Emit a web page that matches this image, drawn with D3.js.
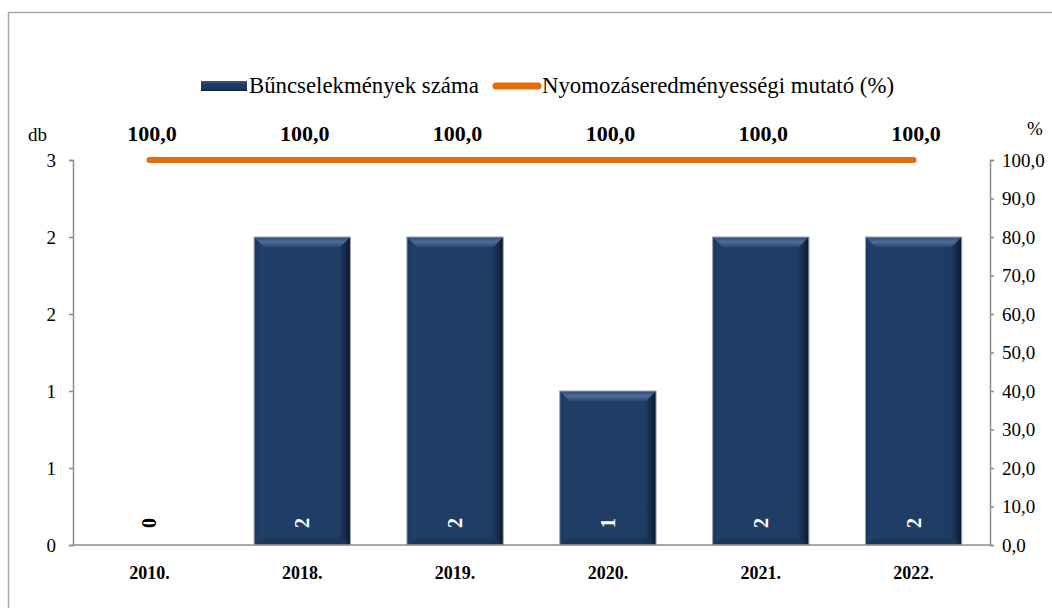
<!DOCTYPE html>
<html><head><meta charset="utf-8">
<script src="https://cdn.jsdelivr.net/npm/d3@7"></script>
<style>body{margin:0;background:#fff}svg{display:block}</style>
</head><body>
<svg id="c" width="1052" height="608"></svg>
<script>
const categories = ["2010.","2018.","2019.","2020.","2021.","2022."];
const counts = [0,2,2,1,2,2];
const rates = [100,100,100,100,100,100];
const leftTicks = [0,0.5,1,1.5,2,2.5];
const rightTicks = [0,10,20,30,40,50,60,70,80,90,100];
const legendLabels = ["Bűncselekmények száma","Nyomozáseredményességi mutató (%)"];

const svg = d3.select("#c");
const m={l:73,r:990,t:160,b:545};
svg.append("rect").attr("x",8.5).attr("y",12.5).attr("width",1100).attr("height",700)
  .attr("fill","#fff").attr("stroke","#a6a6a6").attr("stroke-width",1.5);

const x=d3.scaleBand().domain(categories).range([m.l,m.r]).paddingInner(0.37).paddingOuter(0.185);
const yL=d3.scaleLinear().domain([0,2.5]).range([m.b,m.t]);
const yR=d3.scaleLinear().domain([0,100]).range([m.b,m.t]);

const defs=svg.append("defs");
const g1=defs.append("linearGradient").attr("id","hg").attr("x1",0).attr("x2",1).attr("y1",0).attr("y2",0);
[[0,"#1c3760"],[0.06,"#203e67"],[0.88,"#1f3c65"],[0.95,"#142a48"],[1,"#091629"]].forEach(s=>g1.append("stop").attr("offset",s[0]).attr("stop-color",s[1]));
const g2=defs.append("linearGradient").attr("id","tg").attr("x1",0).attr("x2",0).attr("y1",0).attr("y2",1);
[[0,"#2c4a74"],[0.5,"#4d6c96"],[1,"#2a4872"]].forEach(s=>g2.append("stop").attr("offset",s[0]).attr("stop-color",s[1]));

// bars
const bars=svg.append("g");
categories.forEach((c,i)=>{
  const v=counts[i]; if(v<=0) return;
  const x0=x(c), bw=x.bandwidth(), y0=yL(v), h=yL(0)-y0;
  const g=bars.append("g");
  g.append("rect").attr("x",x0).attr("y",y0).attr("width",bw).attr("height",h).attr("fill","url(#hg)");
  const bv=10;
  g.append("path").attr("d",`M${x0},${y0}L${x0+bw},${y0}L${x0+bw-bv},${y0+bv}L${x0+bv},${y0+bv}Z`).attr("fill","url(#tg)");
  g.append("path").attr("d",`M${x0},${y0+h}L${x0+bw},${y0+h}L${x0+bw-bv},${y0+h-bv*0.7}L${x0+bv},${y0+h-bv*0.7}Z`).attr("fill","#1a3459").attr("opacity",0.8);
  g.append("rect").attr("x",x0).attr("y",y0).attr("width",bw).attr("height",h).attr("fill","none").attr("stroke","#9da3ab").attr("stroke-width",1);
});

// axes
const axL=d3.axisLeft(yL).tickValues(leftTicks).tickSize(4).tickFormat(d=>String(Math.round(d)));
const gl=svg.append("g").attr("transform",`translate(${m.l},0)`).call(axL);
const axR=d3.axisRight(yR).tickValues(rightTicks).tickSize(4).tickFormat(d=>d3.format(".1f")(d).replace(".",","));
const gr=svg.append("g").attr("transform",`translate(${m.r},0)`).call(axR);
[gl,gr].forEach(g=>{
  g.select(".domain").attr("stroke","#8c8c8c").attr("stroke-width",1.5);
  g.selectAll(".tick line").attr("stroke","#8c8c8c").attr("stroke-width",1.5);
  g.selectAll("text").style("font-size","19px").attr("fill","#000");});
gl.selectAll("text").attr("x",-17);
gr.selectAll("text").attr("x",12);
svg.append("line").attr("x1",m.l).attr("x2",m.r).attr("y1",m.b).attr("y2",m.b).attr("stroke","#8c8c8c").attr("stroke-width",1.5);

const T=svg.append("g");
// category labels
T.append("g").selectAll("text").data(categories).join("text")
  .attr("x",d=>x(d)+x.bandwidth()/2).attr("y",579).attr("text-anchor","middle")
  .style("font-weight","bold").style("font-size","18px").text(d=>d);

// bar value labels (rotated)
T.append("g").selectAll("text").data(categories).join("text")
  .attr("transform",(d,i)=>`translate(${x(d)+x.bandwidth()/2+7},${yL(0)-22}) rotate(-90)`)
  .attr("text-anchor","middle").style("font-weight","bold").style("font-size","20px")
  .style("fill",(d,i)=>counts[i]>0?"#fff":"#000")
  .text((d,i)=>counts[i]);

// line
const line=d3.line().x((d,i)=>x(categories[i])+x.bandwidth()/2).y(d=>yR(d));
svg.append("path").datum(rates).attr("d",line).attr("fill","none").attr("stroke","#e46c0a").attr("stroke-width",6).attr("stroke-linecap","round");

// line labels
T.append("g").selectAll("text").data(rates).join("text")
  .attr("x",(d,i)=>x(categories[i])+x.bandwidth()/2+2.5).attr("y",141).attr("text-anchor","middle")
  .style("font-weight","bold").style("font-size","22px").text(d=>d3.format(".1f")(d).replace(".",","));

// axis titles
T.append("text").attr("x",28).attr("y",141).style("font-size","19px").text("db");
T.append("text").attr("x",1027).attr("y",135).style("font-size","19px").text("%");

// legend
const sg=defs.append("linearGradient").attr("id","sg").attr("x1",0).attr("x2",0).attr("y1",0).attr("y2",1);
[[0,"#3a5a86"],[0.3,"#1f3c65"],[0.8,"#1c3760"],[1,"#0c1c34"]].forEach(s=>sg.append("stop").attr("offset",s[0]).attr("stop-color",s[1]));
T.append("rect").attr("x",201).attr("y",81).attr("width",46).attr("height",10).attr("fill","url(#sg)");
T.append("text").attr("x",249).attr("y",93).style("font-size","22.8px").text(legendLabels[0]);
T.append("line").attr("x1",496).attr("x2",538).attr("y1",86).attr("y2",86).attr("stroke","#e46c0a").attr("stroke-width",7).attr("stroke-linecap","round");
T.append("text").attr("x",542).attr("y",93).style("font-size","22.8px").text(legendLabels[1]);

svg.selectAll("text").style("font-family","Liberation Serif");
</script>
</body></html>
